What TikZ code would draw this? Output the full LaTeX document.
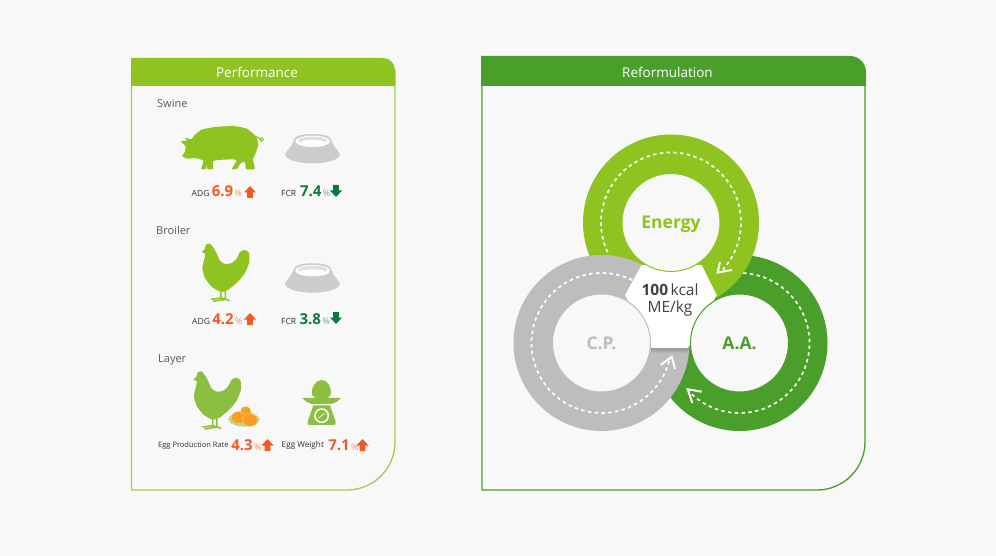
\documentclass[tikz,border=0pt]{standalone}
\usepackage{fontspec}
\setmainfont{Open Sans}
\usetikzlibrary{arrows.meta,calc,positioning}

\definecolor{pagebg}{HTML}{F8F8F8}
\definecolor{leaf}{HTML}{8FC31F}
\definecolor{leafedge}{HTML}{A2CD4C}
\definecolor{layerleaf}{HTML}{8CBF3F}
\definecolor{forest}{HTML}{4A9E2A}
\definecolor{stone}{HTML}{BDBDBD}
\definecolor{bowlgrey}{HTML}{CCCCCC}
\definecolor{hot}{HTML}{F15A22}
\definecolor{cool}{HTML}{0B7A3B}
\definecolor{yolk}{HTML}{F5A01E}

\tikzset{
  headtext/.style={text=white,inner sep=0pt,font=\fontsize{13.5}{16}\selectfont},
  grouptext/.style={text=black!65,inner sep=0pt,anchor=west,font=\fontsize{11}{13}\selectfont},
  stattext/.style={text=black!80,inner sep=0pt,anchor=west,font=\fontsize{8.5}{11}\selectfont},
  longtext/.style={stattext,font=\fontsize{7.5}{10}\selectfont},
  upval/.style={text=hot,inner sep=0pt,font=\bfseries\fontsize{15}{16}\selectfont},
  downval/.style={text=cool,inner sep=0pt,font=\bfseries\fontsize{15}{16}\selectfont},
  percent/.style={inner sep=0pt,font=\fontsize{9}{10}\selectfont},
  ring/.style={circle,draw=#1,line width=39pt,minimum size=137pt,inner sep=0pt},
  hub/.style={circle,fill=pagebg,draw=#1,line width=1pt,minimum size=98pt,inner sep=0pt,text=#1,
    text height=12pt,text depth=0pt,font=\bfseries\fontsize{17.5}{19}\selectfont},
  flow/.style={draw=white,line width=1.7pt,dash pattern=on 3.4pt off 3.4pt},
  flowtip/.style={draw=white,line width=2pt,line join=miter},
  pics/upmark/.style={code={
    \fill[hot] (0,-6) -- (6,.5) -- (2.9,.5) -- (2.9,6) -- (-2.9,6) -- (-2.9,.5) -- (-6,.5) -- cycle;
  }},
  pics/downmark/.style={code={
    \fill[cool] (0,6) -- (6,-.5) -- (2.9,-.5) -- (2.9,-6) -- (-2.9,-6) -- (-2.9,-.5) -- (-6,-.5) -- cycle;
  }},
  pics/bowl/.style={code={
    \begin{scope}[x=.3333pt,y=-.3333pt]
      \fill[bowlgrey] (113,27) .. controls (80,27) and (57,33) .. (55,48) .. controls (52,62) and (36,76) .. (30,88)
        .. controls (35,124) and (190,124) .. (195,88) .. controls (189,76) and (173,62) .. (170,48)
        .. controls (168,33) and (146,27) .. (113,27) -- cycle;
      \fill[white] (113,49) ellipse[x radius=52,y radius=17];
      \fill[bowlgrey!60!white] (113,46) ellipse[x radius=44,y radius=11];
      \fill[white] (114,52) ellipse[x radius=36,y radius=7];
    \end{scope}
  }},
  pics/hen/.style={code={
    \begin{scope}[x=.3333pt,y=-.3333pt]
      \fill[#1] plot[smooth cycle,tension=.35] coordinates {(20,42) (29,34) (33,20) (45,17) (56,30) (65,47)
        (75,68) (90,78) (110,75) (125,62) (135,42) (150,36) (162,45) (163,72) (150,105) (130,130)
        (100,155) (78,162) (50,146) (30,120) (22,90) (29,60) (30,46)};
      \draw[#1,line width=1.5pt] (78,155) -- (78,183) (91,155) -- (91,186)
        (48,184) -- (78,180) -- (104,188) (54,190) -- (91,184);
    \end{scope}
  }},
}

\begin{document}
\begin{tikzpicture}[x=1pt,y=-1pt]
  \useasboundingbox (0,0) rectangle (996,556);
  \fill[pagebg] (0,0) rectangle (996,556);

  % performance panel
  \draw[leafedge,line width=1.3pt] (131.5,70) -- (131.5,490) -- (347,490) arc[start angle=270,end angle=360,radius=48pt] -- (395,70);
  \fill[leaf] (131,58) -- (383,58) arc[start angle=90,end angle=0,radius=12pt] -- (395,86) -- (131,86) -- cycle;
  \node[headtext] (perf) at (257,72) {Performance};

  % swine
  \node[grouptext] (swine) at (157,103.5) {Swine};
  \begin{scope}[shift={(175,118)},x=.3333pt,y=-.3333pt]
    \fill[leaf] plot[smooth cycle,tension=.3] coordinates {(18,70) (36,68) (30,60) (50,63) (60,50) (80,35) (120,27)
      (175,24) (215,32) (243,55) (250,80) (242,105) (234,125) (239,153) (213,153) (210,132) (198,135)
      (185,153) (171,153) (185,127) (170,124) (130,126) (114,130) (114,153) (97,153) (97,137) (92,153)
      (79,153) (85,128) (60,120) (38,122) (22,115) (30,100) (32,85)};
    \draw[leaf,line width=1pt] (243,55) -- (255,62) (260,65) circle[radius=1.7pt];
  \end{scope}
  \pic at (275,125) {bowl};
  \node[stattext] (adga) at (191.5,193) {ADG};
  \node[upval,base right=2pt of adga] (adgaval) {6.9};
  \node[percent,text=hot!70,base right=1pt of adgaval] (adgapct) {\%};
  \pic at (250,192) {upmark};
  \node[stattext] (fcra) at (281,193) {FCR};
  \node[downval,base right=3.5pt of fcra] (fcraval) {7.4};
  \node[percent,text=cool!60,base right=1pt of fcraval] (fcrapct) {\%};
  \pic at (336,191) {downmark};

  % broiler
  \node[grouptext] (broiler) at (156,230) {Broiler};
  \pic at (195,238) {hen=leaf};
  \pic at (275,254.3) {bowl};
  \node[stattext] (adgb) at (192,321.5) {ADG};
  \node[upval,base right=2pt of adgb] (adgbval) {4.2};
  \node[percent,text=hot!70,base right=1pt of adgbval] (adgbpct) {\%};
  \pic at (250,319) {upmark};
  \node[stattext] (fcrb) at (281,321.5) {FCR};
  \node[downval,base right=3pt of fcrb] (fcrbval) {3.8};
  \node[percent,text=cool!60,base right=1pt of fcrbval] (fcrbpct) {\%};
  \pic at (336,318) {downmark};

  % layer
  \node[grouptext] (layer) at (158,359.5) {Layer};
  \pic at (186.6,365.7) {hen=layerleaf};
  \begin{scope}[shift={(185,365)},x=.3333pt,y=-.3333pt]
    \fill[layerleaf!60!white] (177,163) ellipse[x radius=44,y radius=21];
    \foreach \a in {0,12,...,348}
      \draw[layerleaf!80!white,line width=.4pt] ({177+40*cos(\a)},{163+17*sin(\a)}) -- ({177+47*cos(\a)},{163+23*sin(\a)});
    \fill[yolk] (182,140) ellipse[x radius=16,y radius=16];
    \draw[yolk!60!white,line width=.6pt,fill=yolk] (160,158) ellipse[x radius=21,y radius=18];
    \draw[yolk!60!white,line width=.6pt,fill=yolk] (195,165) ellipse[x radius=23,y radius=19];
  \end{scope}
  \begin{scope}[shift={(295,375)},x=.3333pt,y=-.3333pt]
    \fill[layerleaf] (80,15) .. controls (100,15) and (108,40) .. (108,52) .. controls (108,65) and (98,72) .. (80,72)
      .. controls (62,72) and (50,65) .. (50,52) .. controls (50,40) and (60,15) .. (80,15) -- cycle;
    \fill[layerleaf] (22,69) -- (138,69) -- (126,80) -- (110,87) -- (50,87) -- (34,80) -- cycle;
    \fill[layerleaf] (55,91) -- (105,91) -- (122,140) .. controls (124,148) and (120,150) .. (115,150)
      -- (45,150) .. controls (40,150) and (36,148) .. (38,140) -- cycle;
    \fill[white] (80,122) circle[radius=7.5pt];
    \fill[layerleaf] (80,122) circle[radius=5.8pt];
    \draw[white,line width=.7pt] (71,129) -- (89,114);
  \end{scope}
  \node[longtext] (eggrate) at (158,445.5) {Egg Production Rate};
  \node[upval] (eggrateval) at (242,445.5) {4.3};
  \node[percent,text=hot!70,base right=1pt of eggrateval] (eggratepct) {\%};
  \pic at (267.5,445) {upmark};
  \node[stattext,font=\fontsize{8.2}{10}\selectfont] (eggweight) at (281.5,445.5) {Egg Weight};
  \node[upval] (eggweightval) at (339,445.5) {7.1};
  \node[percent,text=hot!70,base right=1pt of eggweightval] (eggweightpct) {\%};
  \pic at (362.5,445) {upmark};

  % reformulation panel
  \draw[forest,line width=1.3pt] (482,70) -- (482,490) -- (817,490) arc[start angle=270,end angle=360,radius=48pt] -- (865,70);
  \fill[forest] (481,56) -- (850,56) arc[start angle=90,end angle=0,radius=16pt] -- (866,86) -- (481,86) -- cycle;
  \node[headtext] (reform) at (667.5,72) {Reformulation};

  % rings, last one lies on top
  \node[ring=forest] (ringaa) at (739.5,343) {};
  \draw[flow] ($(ringaa.center)+(87:70pt)$) arc[start angle=87,end angle=-136,radius=70pt];
  \draw[flowtip] (701.7,391.7) -- (687.7,389.3) -- (692.3,403);

  \node[ring=leaf] (ringen) at (671,222.5) {};
  \draw[flow] ($(ringen.center)+(205:70pt)$) arc[start angle=205,end angle=-42,radius=70pt];
  \draw[flowtip] (720,262) -- (717.7,272.5) -- (731.7,270);

  \node[ring=stone] (ringcp) at (601.5,343) {};
  \draw[flow] ($(ringcp.center)+(64:70pt)$) arc[start angle=64,end angle=346,radius=70pt];
  \draw[flowtip] (660.7,365) -- (671.7,356.7) -- (675,369);

  % centre
  \shade[top color=black!45,bottom color=stone] (651.7,347) rectangle (689,353);
  \fill[white] (641.7,265) -- (701.7,265) -- (716.7,295) -- (688,348) -- (651.7,348) -- (625,295) -- cycle;
  \node[hub=leaf] (energy) at (ringen.center) {Energy};
  \node[hub=forest] (aa) at (ringaa.center) {A.A.};
  \node[hub=stone] (cp) at (ringcp.center) {C.P.};
  \node[align=center,inner sep=0pt,text=black!75,font=\fontsize{15.5}{17}\selectfont] (kcal) at (670,300)
    {{\bfseries 100}\,kcal\\ME/kg};
\end{tikzpicture}
\end{document}
